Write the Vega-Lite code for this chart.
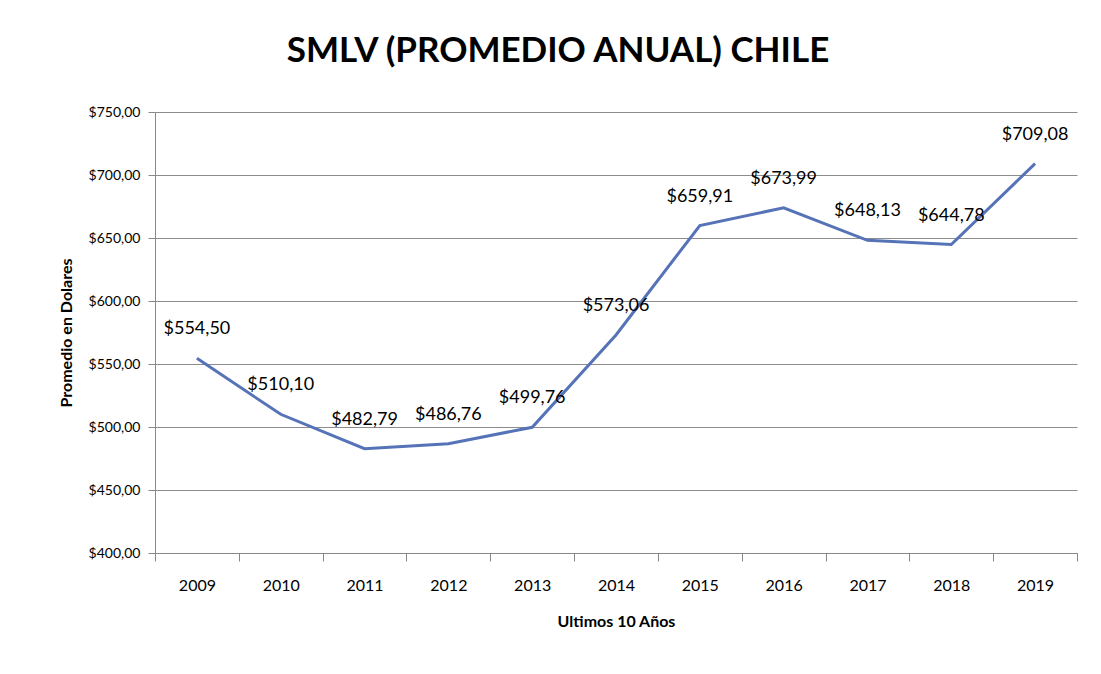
{
  "$schema": "https://vega.github.io/schema/vega-lite/v6.json",
  "width": 922,
  "height": 441,
  "autosize": {"type": "none"},
  "padding": {"left": 155, "top": 112, "right": 24, "bottom": 121},
  "background": "white",
  "config": {
    "locale": {"number": {"decimal": ",", "thousands": ".", "grouping": [3], "currency": ["$", ""]}},
    "font": "Lato",
    "view": {"stroke": null}
  },
  "title": {
    "text": "SMLV (PROMEDIO ANUAL) CHILE",
    "font": "Lato",
    "fontSize": 35,
    "fontWeight": "bold",
    "color": "#000000",
    "anchor": "middle",
    "dx": -58,
    "offset": 36
  },
  "data": {
    "values": [
      {"year": "2009", "value": 554.50},
      {"year": "2010", "value": 510.10},
      {"year": "2011", "value": 482.79},
      {"year": "2012", "value": 486.76},
      {"year": "2013", "value": 499.76},
      {"year": "2014", "value": 573.06},
      {"year": "2015", "value": 659.91},
      {"year": "2016", "value": 673.99},
      {"year": "2017", "value": 648.13},
      {"year": "2018", "value": 644.78},
      {"year": "2019", "value": 709.08}
    ]
  },
  "encoding": {
    "x": {
      "field": "year",
      "type": "ordinal",
      "scale": {"type": "band", "paddingInner": 0, "paddingOuter": 0},
      "axis": {
        "title": "Ultimos 10 Años",
        "titleFont": "Lato",
        "titleFontSize": 16,
        "titleFontWeight": "bold",
        "titleColor": "#000000",
        "titlePadding": 20,
        "labelAngle": 0,
        "labelFont": "Lato",
        "labelFontSize": 16,
        "labelColor": "#000000",
        "labelPadding": 16,
        "tickBand": "extent",
        "tickSize": 8,
        "tickColor": "#888888",
        "domainColor": "#888888",
        "grid": false
      }
    },
    "y": {
      "field": "value",
      "type": "quantitative",
      "scale": {"domain": [400, 750], "nice": false, "zero": false},
      "axis": {
        "title": "Promedio en Dolares",
        "titleFont": "Lato",
        "titleFontSize": 16,
        "titleFontWeight": "bold",
        "titleColor": "#000000",
        "titlePadding": 14,
        "values": [400, 450, 500, 550, 600, 650, 700, 750],
        "format": "$.2f",
        "labelFont": "Lato",
        "labelFontSize": 14,
        "labelColor": "#000000",
        "labelPadding": 8,
        "tickSize": 7,
        "tickColor": "#888888",
        "domainColor": "#888888",
        "grid": true,
        "gridColor": "#8c8c8c",
        "gridWidth": 1
      }
    }
  },
  "layer": [
    {
      "mark": {"type": "line", "color": "#5673b8", "strokeWidth": 3}
    },
    {
      "mark": {"type": "text", "font": "Lato", "fontSize": 18, "color": "#000000", "baseline": "middle", "align": "center", "dy": -29},
      "encoding": {
        "text": {"field": "value", "type": "quantitative", "format": "$.2f"}
      }
    }
  ]
}
